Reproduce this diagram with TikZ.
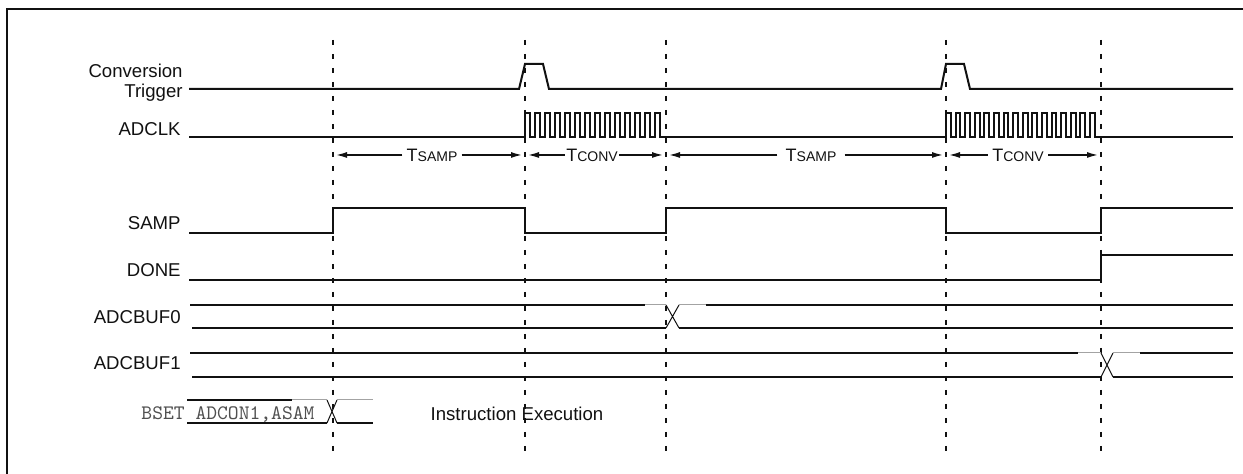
\documentclass[tikz,border=0pt]{standalone}
\usepackage{fontspec}
\setmainfont{Liberation Sans}
\usetikzlibrary{positioning, arrows.meta}
\definecolor{ink}{HTML}{111111}
\definecolor{faint}{HTML}{A3A3A3}
\definecolor{codegray}{HTML}{505050}

\begin{document}
\begin{tikzpicture}[x=0.5pt, y=-0.5pt,
    sig/.style={line width=1pt, ink},
    thinsig/.style={line width=0.5pt, ink},
    ghost/.style={line width=0.5pt, faint},
    markline/.style={line width=1pt, ink, dash pattern=on 2.5pt off 4.5pt},
    dimarrow/.style={line width=0.7pt, ink, -{Latex[length=5.5pt, width=3pt]},
                     shorten >=1.5pt},
    siglabel/.style={anchor=east, inner sep=0pt, text=ink,
                     font=\fontsize{9.3}{10}\selectfont, align=right},
    dimlabel/.style={inner sep=2pt, text=ink, font=\fontsize{9}{10}\selectfont}]
  \useasboundingbox (0,0) rectangle (1243,474);
  % ---- frame (only top and left edge in view) ----
  \draw[line width=1pt, ink] (7,474) -- (7,9) -- (1243,9);

  % ---- time marks ----
  \coordinate (t1) at (333,40);
  \coordinate (t2) at (525,40);
  \coordinate (t3) at (666,40);
  \coordinate (t4) at (946,40);
  \coordinate (t5) at (1101,40);
  \foreach \t in {t1,t2,t3,t4,t5}
    \draw[markline] (\t) -- ++(0,411);

  % ---- signal names ----
  \node[siglabel] (trig) at (183,83) {Conversion\\Trigger};
  \node[siglabel] (clk)  at (181,129) {ADCLK};
  \node[siglabel] (samp) at (181,223) {SAMP};
  \node[siglabel] (done) at (181,270) {DONE};
  \node[siglabel] (buf0) at (181,317) {ADCBUF0};
  \node[siglabel] (buf1) at (181,363) {ADCBUF1};

  % ---- conversion trigger: two short pulses ----
  \draw[sig] (189,89) -- (519,89) -- (525,64) -- (543,64) -- (549,89)
        -- (941,89) -- (946,64) -- (964,64) -- (970,89) -- (1233,89);

  % ---- ADCLK: bursts during conversion ----
  \draw[sig] (189,137) -- (525,137)
        \foreach \k in {1,...,14} { -- ++(0,-24) -- ++(5,0) -- ++(0,24) -- ++(5,0) }
        -- (946,137)
        \foreach \k in {1,...,16} { -- ++(0,-24) -- ++(4.8,0) -- ++(0,24) -- ++(4.8,0) }
        -- (1233,137);

  % ---- sample / convert intervals ----
  \node[dimlabel] (ts1) at (432,155) {T{\fontsize{7}{8}\selectfont SAMP}};
  \node[dimlabel, inner sep=0.5pt] (tc1) at (592,155) {T{\fontsize{7}{8}\selectfont CONV}};
  \node[dimlabel, inner sep=4pt] (ts2) at (811,155) {T{\fontsize{7}{8}\selectfont SAMP}};
  \node[dimlabel] (tc2) at (1018,155) {T{\fontsize{7}{8}\selectfont CONV}};
  \draw[dimarrow] (ts1.west) -- (ts1.west -| t1);
  \draw[dimarrow] (ts1.east) -- (ts1.east -| t2);
  \draw[dimarrow] (tc1.west) -- (tc1.west -| t2);
  \draw[dimarrow] (tc1.east) -- (tc1.east -| t3);
  \draw[dimarrow] (ts2.west) -- (ts2.west -| t3);
  \draw[dimarrow] (ts2.east) -- (ts2.east -| t4);
  \draw[dimarrow] (tc2.west) -- (tc2.west -| t4);
  \draw[dimarrow] (tc2.east) -- (tc2.east -| t5);

  % ---- SAMP and DONE ----
  \draw[sig] (189,233) -- (333,233) -- (333,208) -- (525,208) -- (525,233)
        -- (666,233) -- (666,208) -- (946,208) -- (946,233) -- (1101,233)
        -- (1101,208) -- (1233,208);
  \draw[sig] (189,280) -- (1101,280) -- (1101,255) -- (1233,255);

  % ---- ADCBUF0: changes at end of first conversion ----
  \draw[sig] (190,305) -- (645,305);
  \draw[ghost] (645,305) -- (666,305) (679,305) -- (706,305);
  \draw[sig] (706,305) -- (1233,305);
  \draw[sig] (192,328) -- (666,328) (679,328) -- (1233,328);
  \draw[thinsig] (666,305) -- (679,328) (666,328) -- (679,305);

  % ---- ADCBUF1: changes at end of second conversion ----
  \draw[sig] (190,353) -- (1078,353);
  \draw[ghost] (1078,353) -- (1101,353) (1113,353) -- (1140,353);
  \draw[sig] (1140,353) -- (1233,353);
  \draw[sig] (192,377) -- (1101,377) (1113,377) -- (1233,377);
  \draw[thinsig] (1101,353) -- (1113,377) (1101,377) -- (1113,353);

  % ---- instruction that starts sampling ----
  \draw[sig] (187,400) -- (292,400);
  \draw[ghost] (292,400) -- (327,400) (337,400) -- (373,400);
  \draw[sig] (187,423) -- (327,423) (337,423) -- (373,423);
  \draw[thinsig] (327,400) -- (337,423) (327,423) -- (337,400);
  \node[inner sep=0pt, text=codegray, font=\ttfamily\fontsize{10.3}{11}\selectfont]
        (bset) at (228,415) {BSET ADCON1,ASAM};
  \node[inner sep=0pt, text=ink, font=\fontsize{9.3}{10}\selectfont]
        (instr) at (517,414) {Instruction Execution};
\end{tikzpicture}
\end{document}
